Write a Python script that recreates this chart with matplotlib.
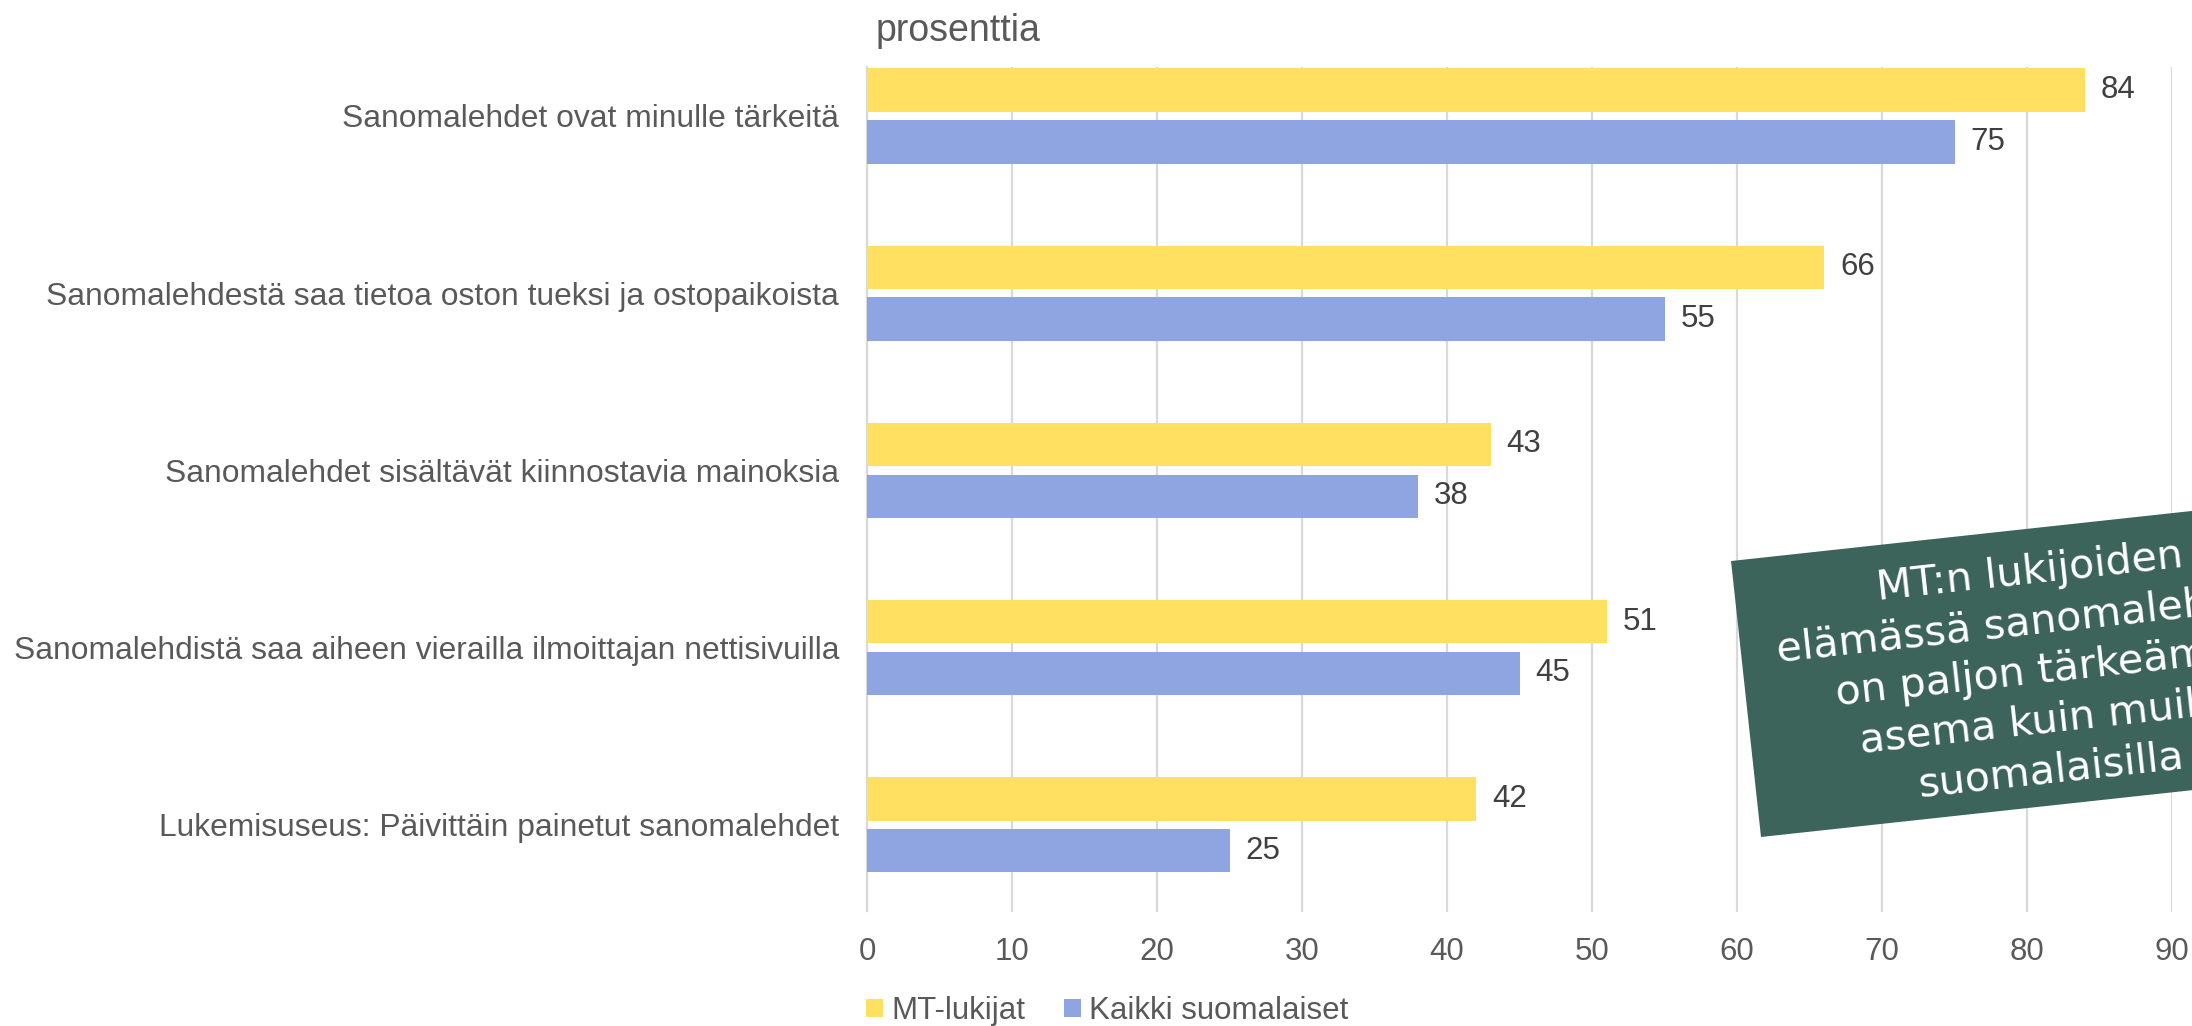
import numpy as np
import matplotlib
matplotlib.use("Agg")
import matplotlib.pyplot as plt
from matplotlib.patches import Rectangle, Patch
import matplotlib.transforms as mtransforms

categories = [
    "Sanomalehdet ovat minulle tärkeitä",
    "Sanomalehdestä saa tietoa oston tueksi ja ostopaikoista",
    "Sanomalehdet sisältävät kiinnostavia mainoksia",
    "Sanomalehdistä saa aiheen vierailla ilmoittajan nettisivuilla",
    "Lukemisuseus: Päivittäin painetut sanomalehdet",
]
mt_readers = [84, 66, 43, 51, 42]
all_finns = [75, 55, 38, 45, 25]
series_names = ["MT-lukijat", "Kaikki suomalaiset"]
x_ticks = [0, 10, 20, 30, 40, 50, 60, 70, 80, 90]
callout_lines = ["MT:n lukijoiden", "elämässä sanomalehdillä", "on paljon tärkeämpi",
                 "asema kuin muilla", "suomalaisilla"]

YELLOW = "#FFE060"
BLUE = "#8EA5E1"
GREEN = "#3C645A"
GREY = "#595959"
DARK = "#404040"
GRID = "#D9D9D9"
FS = 22.5

plt.rcParams["font.family"] = ["Liberation Sans", "DejaVu Sans"]

W, H = 2192, 1026
fig = plt.figure(figsize=(W / 100, H / 100), dpi=100)
ax = fig.add_axes([867 / W, 1 - 911.5 / H, (2172 - 867) / W, (911.5 - 67) / H])

pos = np.arange(len(categories))
bar_h = 0.245
off = bar_h / 2 + 0.0235
ax.barh(pos - off, mt_readers, height=bar_h, color=YELLOW, zorder=3)
ax.barh(pos + off, all_finns, height=bar_h, color=BLUE, zorder=3)

# value labels
for i in range(len(categories)):
    ax.text(mt_readers[i] + 1.1, pos[i] - off, str(mt_readers[i]), va="center", ha="left",
            fontsize=FS, color=DARK)
    ax.text(all_finns[i] + 1.1, pos[i] + off, str(all_finns[i]), va="center", ha="left",
            fontsize=FS, color=DARK)

ax.set_xlim(0, 90)
ax.set_ylim(4.489, -0.276)
ax.set_xticks(x_ticks)
ax.set_xticklabels([str(t) for t in x_ticks], fontsize=FS, color=GREY)
ax.set_yticks(pos)
ax.set_yticklabels(categories, fontsize=22.9, color=GREY)
ax.tick_params(axis="both", length=0)
ax.tick_params(axis="y", pad=20)
ax.tick_params(axis="x", pad=18)
ax.grid(axis="x", color=GRID, linewidth=1.6, zorder=0)
for s in ["top", "right", "bottom"]:
    ax.spines[s].set_visible(False)
ax.spines["left"].set_color(GRID)
ax.spines["left"].set_linewidth(1.6)

fig.text(876 / W, 1 - 31 / H, "prosenttia", fontsize=27, color=GREY, va="center", ha="left")

handles = [Patch(facecolor=YELLOW), Patch(facecolor=BLUE)]
fig.legend(handles, series_names, loc="center left", bbox_to_anchor=(866 / W, 1 - 1011 / H),
           bbox_transform=fig.transFigure, ncol=2, frameon=False, fontsize=FS,
           handlelength=0.54, handleheight=0.54, handletextpad=0.26, columnspacing=1.25,
           borderpad=0, borderaxespad=0, labelcolor=GREY)

# rotated callout box (inches, rotated round its lower-left corner)
angle = 6.2
x0, y0 = 17.61, 1.89
bw, bh = 6.3, 2.776
rot = mtransforms.Affine2D().rotate_deg_around(x0, y0, angle) + fig.dpi_scale_trans
box = Rectangle((x0, y0), bw, bh, facecolor=GREEN, edgecolor="none", transform=rot, zorder=5)
fig.add_artist(box)
# one text per line, baselines measured up from the box's lower edge
pitch = 0.50
last_base = 0.23
n = len(callout_lines)
for i, line in enumerate(callout_lines):
    fig.text(x0 + 2.96, y0 + last_base + (n - 1 - i) * pitch, line, transform=rot,
             rotation=angle, rotation_mode="anchor", ha="center", va="baseline",
             color="white", fontsize=29.6, family="DejaVu Sans", zorder=6)

fig.savefig("out.png", dpi=100)
